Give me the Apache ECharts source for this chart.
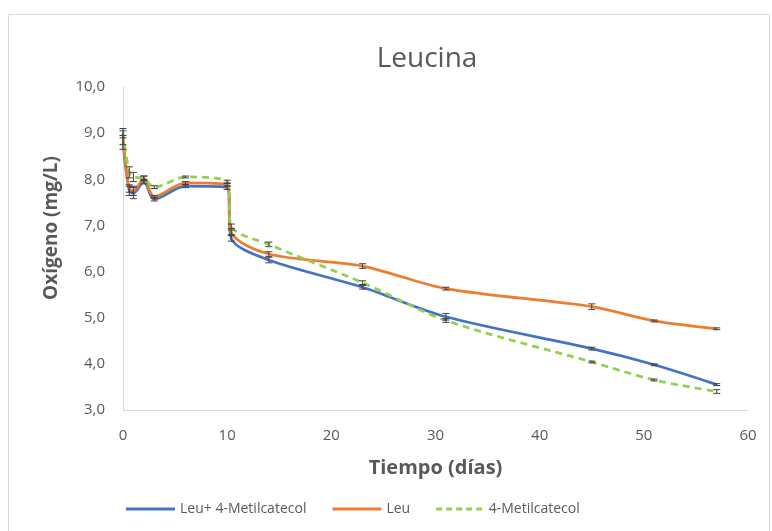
<!DOCTYPE html>
<html><head><meta charset="utf-8">
<script src="https://cdn.jsdelivr.net/npm/echarts@6/dist/echarts.min.js"></script>
<style>html,body{margin:0;padding:0;background:#fff}#c{width:772px;height:531px}</style>
</head><body><div id="c"></div>
<script>
const days = [0, 0.6, 1, 2, 3, 6, 10, 10.4, 14, 23, 31, 45, 51, 57];
const leuMetil = [8.8, 7.75, 7.7, 7.95, 7.57, 7.85, 7.82, 6.72, 6.25, 5.66, 5.02, 4.33, 3.98, 3.55];
const leu = [8.9, 7.8, 7.75, 8.02, 7.62, 7.92, 7.88, 6.85, 6.38, 6.12, 5.63, 5.24, 4.93, 4.76];
const metil = [9.0, 8.15, 8.05, 8.02, 7.83, 8.05, 7.95, 6.98, 6.59, 5.76, 4.94, 4.04, 3.65, 3.4];
const errLeuMetil = [0.15, 0.1, 0.12, 0.05, 0.04, 0.03, 0.04, 0.06, 0.06, 0.04, 0.07, 0.03, 0.02, 0.02];
const errLeu = [0.15, 0.08, 0.1, 0.05, 0.03, 0.03, 0.03, 0.05, 0.05, 0.05, 0.03, 0.06, 0.02, 0.02];
const errMetil = [0.1, 0.12, 0.1, 0.05, 0.03, 0.02, 0.03, 0.05, 0.05, 0.04, 0.04, 0.02, 0.02, 0.04];
const seriesNames = ['Leu+ 4-Metilcatecol', 'Leu', '4-Metilcatecol'];
const yTicks = ['3,0','4,0','5,0','6,0','7,0','8,0','9,0','10,0'];
const yTitle = 'Oxígeno (mg/L)';

const chart = echarts.init(document.getElementById('c'));
function pairs(v){ return days.map((d,i)=>[d, v[i]]); }
function errSeries(v, e){
  return {
    type: 'custom', silent: true, z: 5,
    data: days.map((d,i)=>[d, v[i]-e[i], v[i]+e[i]]),
    renderItem: function(params, api){
      const lo = api.coord([api.value(0), api.value(1)]);
      const hi = api.coord([api.value(0), api.value(2)]);
      const w = 3.5;
      const st = {stroke:'#404040', lineWidth:1};
      return {type:'group', children:[
        {type:'line', shape:{x1:lo[0],y1:lo[1],x2:hi[0],y2:hi[1]}, style:st},
        {type:'line', shape:{x1:lo[0]-w,y1:lo[1],x2:lo[0]+w,y2:lo[1]}, style:st},
        {type:'line', shape:{x1:hi[0]-w,y1:hi[1],x2:hi[0]+w,y2:hi[1]}, style:st}
      ]};
    }
  };
}
const font = 'Open Sans, Liberation Sans, sans-serif';
const dashIcon = 'path://M0,0h6v3h-6z M10,0h6v3h-6z M20,0h6v3h-6z M30,0h6v3h-6z M40,0h6v3h-6z';
chart.setOption({
  animation: false,
  textStyle: {fontFamily: font},
  title: {text: 'Leucina', left: 422, top: 40, textAlign: 'center',
    textStyle: {fontSize: 28, fontWeight: 'normal', color: '#595959', fontFamily: font}},
  graphic: [
    {type:'rect', shape:{x:8.5, y:14.5, width:761, height:530}, style:{fill:'none', stroke:'#d9d9d9', lineWidth:1}, silent:true},
    {type:'text', x: 52, y: 228, rotation: Math.PI/2, silent: true,
      style: {text: yTitle, fill: '#595959', font: 'bold 19px ' + font, align: 'center', verticalAlign: 'middle'}}
  ],
  legend: {
    top: 497, left: 121, itemGap: 26, itemWidth: 49, itemHeight: 3,
    data: [
      {name: seriesNames[0], icon: 'rect'},
      {name: seriesNames[1], icon: 'rect'},
      {name: seriesNames[2], icon: dashIcon}
    ],
    textStyle: {fontSize: 14, color: '#595959', fontFamily: font}
  },
  grid: {left: 123, right: 24, top: 87, bottom: 121},
  xAxis: {
    type: 'value', min: 0, max: 60, interval: 10,
    name: 'Tiempo (días)', nameLocation: 'middle', nameGap: 48,
    nameTextStyle: {fontSize: 20, fontWeight: 'bold', color: '#595959', fontFamily: font},
    axisLine: {lineStyle: {color: '#d9d9d9'}},
    axisTick: {show: false}, splitLine: {show: false},
    axisLabel: {fontSize: 15, color: '#595959', margin: 18}
  },
  yAxis: {
    type: 'value', min: 3, max: 10, interval: 1,
    axisLine: {show: true, lineStyle: {color: '#d9d9d9'}},
    axisTick: {show: false}, splitLine: {show: false},
    axisLabel: {fontSize: 15, color: '#595959', margin: 18,
      formatter: function(v){ return yTicks[Math.round(v-3)]; }}
  },
  series: [
    {name: seriesNames[0], type: 'line', data: pairs(leuMetil), smooth: 0.3, showSymbol: false, z: 3,
      lineStyle: {color: '#4472c4', width: 2.75}, itemStyle: {color: '#4472c4'}},
    {name: seriesNames[1], type: 'line', data: pairs(leu), smooth: 0.3, showSymbol: false, z: 3,
      lineStyle: {color: '#ed7d31', width: 2.75}, itemStyle: {color: '#ed7d31'}},
    {name: seriesNames[2], type: 'line', data: pairs(metil), smooth: 0.3, showSymbol: false, z: 4,
      lineStyle: {color: '#92d050', width: 2.75, type: [7, 5]}, itemStyle: {color: '#92d050'}},
    errSeries(leuMetil, errLeuMetil),
    errSeries(leu, errLeu),
    errSeries(metil, errMetil)
  ]
});
</script></body></html>
